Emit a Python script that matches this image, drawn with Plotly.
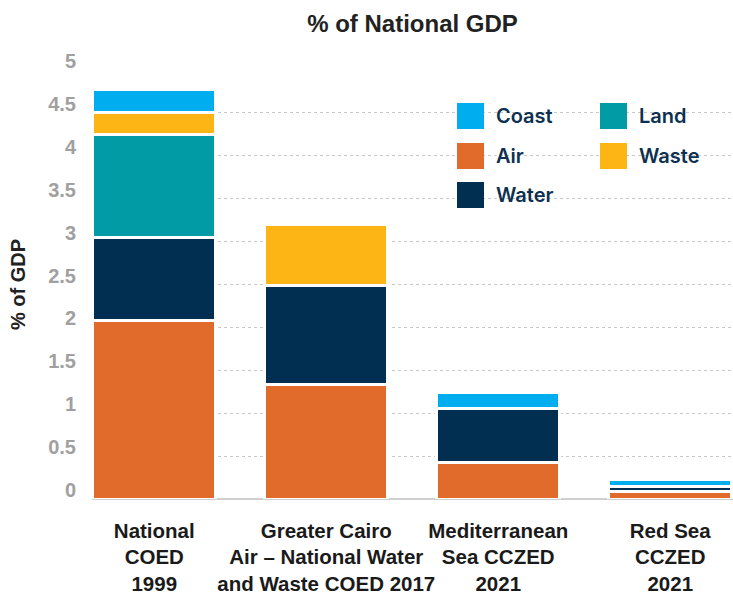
import plotly.graph_objects as go

# ---- data -------------------------------------------------------------
categories = [
    "National<br>COED<br>1999",
    "Greater Cairo<br>Air – National Water<br>and Waste COED 2017",
    "Mediterranean<br>Sea CCZED<br>2021",
    "Red Sea<br>CCZED<br>2021",
]
air = [2.08, 1.34, 0.43, 0.09]
water = [0.97, 1.15, 0.62, 0.06]
land = [1.20, None, None, None]
waste = [0.25, 0.71, None, None]
coast = [0.27, None, 0.19, 0.08]

y_ticks = [0, 0.5, 1, 1.5, 2, 2.5, 3, 3.5, 4, 4.5, 5]
y_tick_labels = ["0", "0.5", "1", "1.5", "2", "2.5", "3", "3.5", "4", "4.5", "5"]

# stacking order (bottom to top)
series = [
    ("Air", air, "#e06b2b"),
    ("Water", water, "#002f51"),
    ("Land", land, "#009ba5"),
    ("Waste", waste, "#fcb514"),
    ("Coast", coast, "#00aeef"),
]
colors = {name: col for name, _, col in series}

# legend layout: two columns, read row by row
legend_columns = [["Coast", "Air", "Water"], ["Land", "Waste"]]

# ---- figure -----------------------------------------------------------
W, H = 733, 595
M_L, M_R, M_T, M_B = 92, 0, 70, 96
PW, PH = W - M_L - M_R, H - M_T - M_B

fig = go.Figure()
for name, vals, col in series:
    fig.add_trace(go.Bar(
        x=categories, y=vals, name=name,
        width=0.715,
        marker=dict(color=col, line=dict(color="white", width=3)),
        showlegend=False,
        hovertemplate=name + ": %{y}<extra></extra>",
    ))

bold = dict(family="Liberation Sans, Arial, sans-serif", weight="bold")

fig.update_layout(
    width=W, height=H,
    margin=dict(l=M_L, r=M_R, t=M_T, b=M_B, autoexpand=False),
    barmode="stack",
    plot_bgcolor="white", paper_bgcolor="white",
    title=dict(
        text="% of National GDP",
        x=0.5, xref="paper", xanchor="center",
        y=1 - 24 / H, yref="container", yanchor="middle",
        font=dict(size=24, color="#222222", **bold),
    ),
    xaxis=dict(
        range=[-0.362, 3.365],
        showgrid=False, showline=False, ticks="",
        tickangle=0, automargin=False,
        tickfont=dict(size=20.5, color="#1a1a1a", **bold),
        ticklabelstandoff=17,
    ),
    yaxis=dict(
        range=[0, 5], automargin=False,
        tickvals=y_ticks, ticktext=y_tick_labels,
        showgrid=True, gridcolor="#c8c8c8", griddash="dot", gridwidth=1,
        zeroline=True, zerolinecolor="#cfcfcf", zerolinewidth=2,
        showline=False, ticks="",
        tickfont=dict(size=20, color="#a0a0a0", **bold),
        ticklabelshift=-9, ticklabelstandoff=15,
        title=dict(text="% of GDP", font=dict(size=20, color="#222222", **bold),
                   standoff=17),
    ),
)

# ---- legend (swatches + labels) ---------------------------------------
col_px = [457, 600]
row_px = [116, 156, 195]
sw_w, sw_h = 27, 26
for ci, names in enumerate(legend_columns):
    for ri, name in enumerate(names):
        x0 = (col_px[ci] - M_L) / PW
        x1 = (col_px[ci] + sw_w - M_L) / PW
        yc = (H - M_B - row_px[ri]) / PH
        fig.add_shape(
            type="rect", xref="paper", yref="paper",
            x0=x0, x1=x1, y0=yc - sw_h / 2 / PH, y1=yc + sw_h / 2 / PH,
            fillcolor=colors[name], line=dict(width=0),
        )
        fig.add_annotation(
            text=name, xref="paper", yref="paper",
            x=x1, y=yc, xanchor="left", yanchor="middle",
            xshift=10, showarrow=False,
            font=dict(family="Inter, Lato, sans-serif", size=20,
                      color="#0d3050", weight=600),
        )

fig.write_html("out.html")
